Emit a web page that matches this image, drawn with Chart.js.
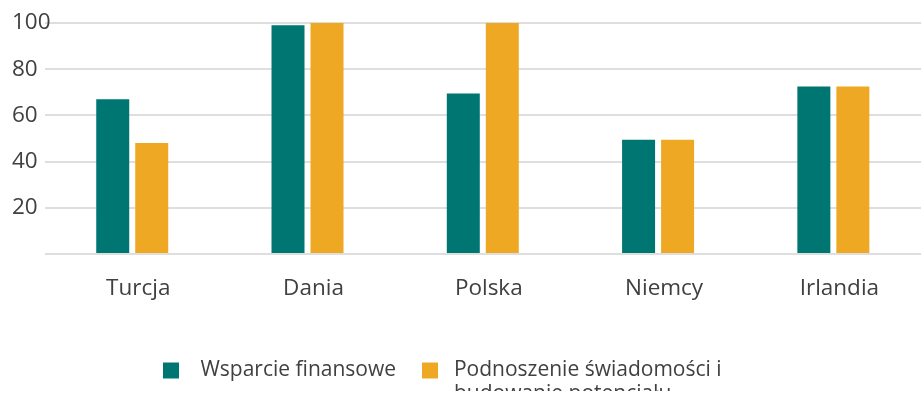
<!DOCTYPE html>
<html lang="pl">
<head>
<meta charset="utf-8">
<script src="https://cdn.jsdelivr.net/npm/chart.js@4"></script>
<style>
  html, body { margin: 0; padding: 0; background: #fff; overflow: hidden; }
  #wrap { width: 921px; height: 403px; position: relative; }
</style>
</head>
<body>
<div id="wrap"><canvas id="chart"></canvas></div>
<script>
// Data
const categories = ["Turcja", "Dania", "Polska", "Niemcy", "Irlandia"];
const seriesLabels = [
  "  Wsparcie finansowe",
  [" Podnoszenie świadomości i", " budowanie potencjału"],
];
const wsparcieValues = [67, 99, 69.5, 49.5, 72.5];
const podnoszenieValues = [48, 100, 100, 49.5, 72.5];
const yTicks = [0, 20, 40, 60, 80, 100];

// Settings
const seriesColors = ["#007672", "#EEA824"];
const textColor = "#404040";
const gridColor = "#dedede";
const fontFamily = "'Open Sans', 'Noto Sans', sans-serif";
const legendStartX = 163; // legend sits left of centre in the original

// move the legend row to its start x, and let the y labels run into the plot like the original
const layoutTweaks = {
  id: "layoutTweaks",
  afterLayout(chart) {
    const legend = chart.legend;
    if (legend) {
      const shift = legendStartX - (legend.left + legend.options.labels.padding);
      legend.left += shift;
      legend.right += shift;
    }
    chart.scales.y._computeLabelArea = () => undefined;
  },
};

new Chart(document.getElementById("chart"), {
  type: "bar",
  data: {
    labels: categories,
    datasets: [
      {
        label: seriesLabels[0],
        data: wsparcieValues,
        backgroundColor: seriesColors[0],
        borderWidth: 0,
      },
      {
        label: seriesLabels[1],
        data: podnoszenieValues,
        backgroundColor: seriesColors[1],
        borderWidth: 0,
      },
    ],
  },
  options: {
    responsive: true,
    maintainAspectRatio: false,
    animation: false,
    categoryPercentage: 0.445,
    barPercentage: 0.846,
    layout: {
      padding: { top: 23, left: 12, right: 0, bottom: 12 },
    },
    plugins: {
      tooltip: { enabled: false },
      legend: {
        position: "bottom",
        align: "start",
        labels: {
          color: textColor,
          boxWidth: 16,
          boxHeight: 16,
          padding: 26,
          font: { family: fontFamily, size: 21, lineHeight: 1.12 },
        },
      },
    },
    scales: {
      x: {
        grid: { display: false },
        border: { display: false },
        ticks: {
          color: textColor,
          padding: 13,
          labelOffset: 6,
          font: { family: fontFamily, size: 22.5 },
        },
        afterFit: (scale) => {
          scale.height += 19;
        },
      },
      y: {
        min: 0,
        max: 100,
        afterBuildTicks: (scale) => {
          scale.ticks = yTicks.map((v) => ({ value: v }));
        },
        grid: { color: gridColor, lineWidth: 2, drawTicks: false },
        border: { display: false },
        ticks: {
          color: textColor,
          padding: -3,
          crossAlign: "far",
          font: { family: fontFamily, size: 22.5 },
          callback: (value) => (value === 0 ? "" : value),
        },
      },
    },
  },
  plugins: [layoutTweaks],
});
</script>
</body>
</html>
